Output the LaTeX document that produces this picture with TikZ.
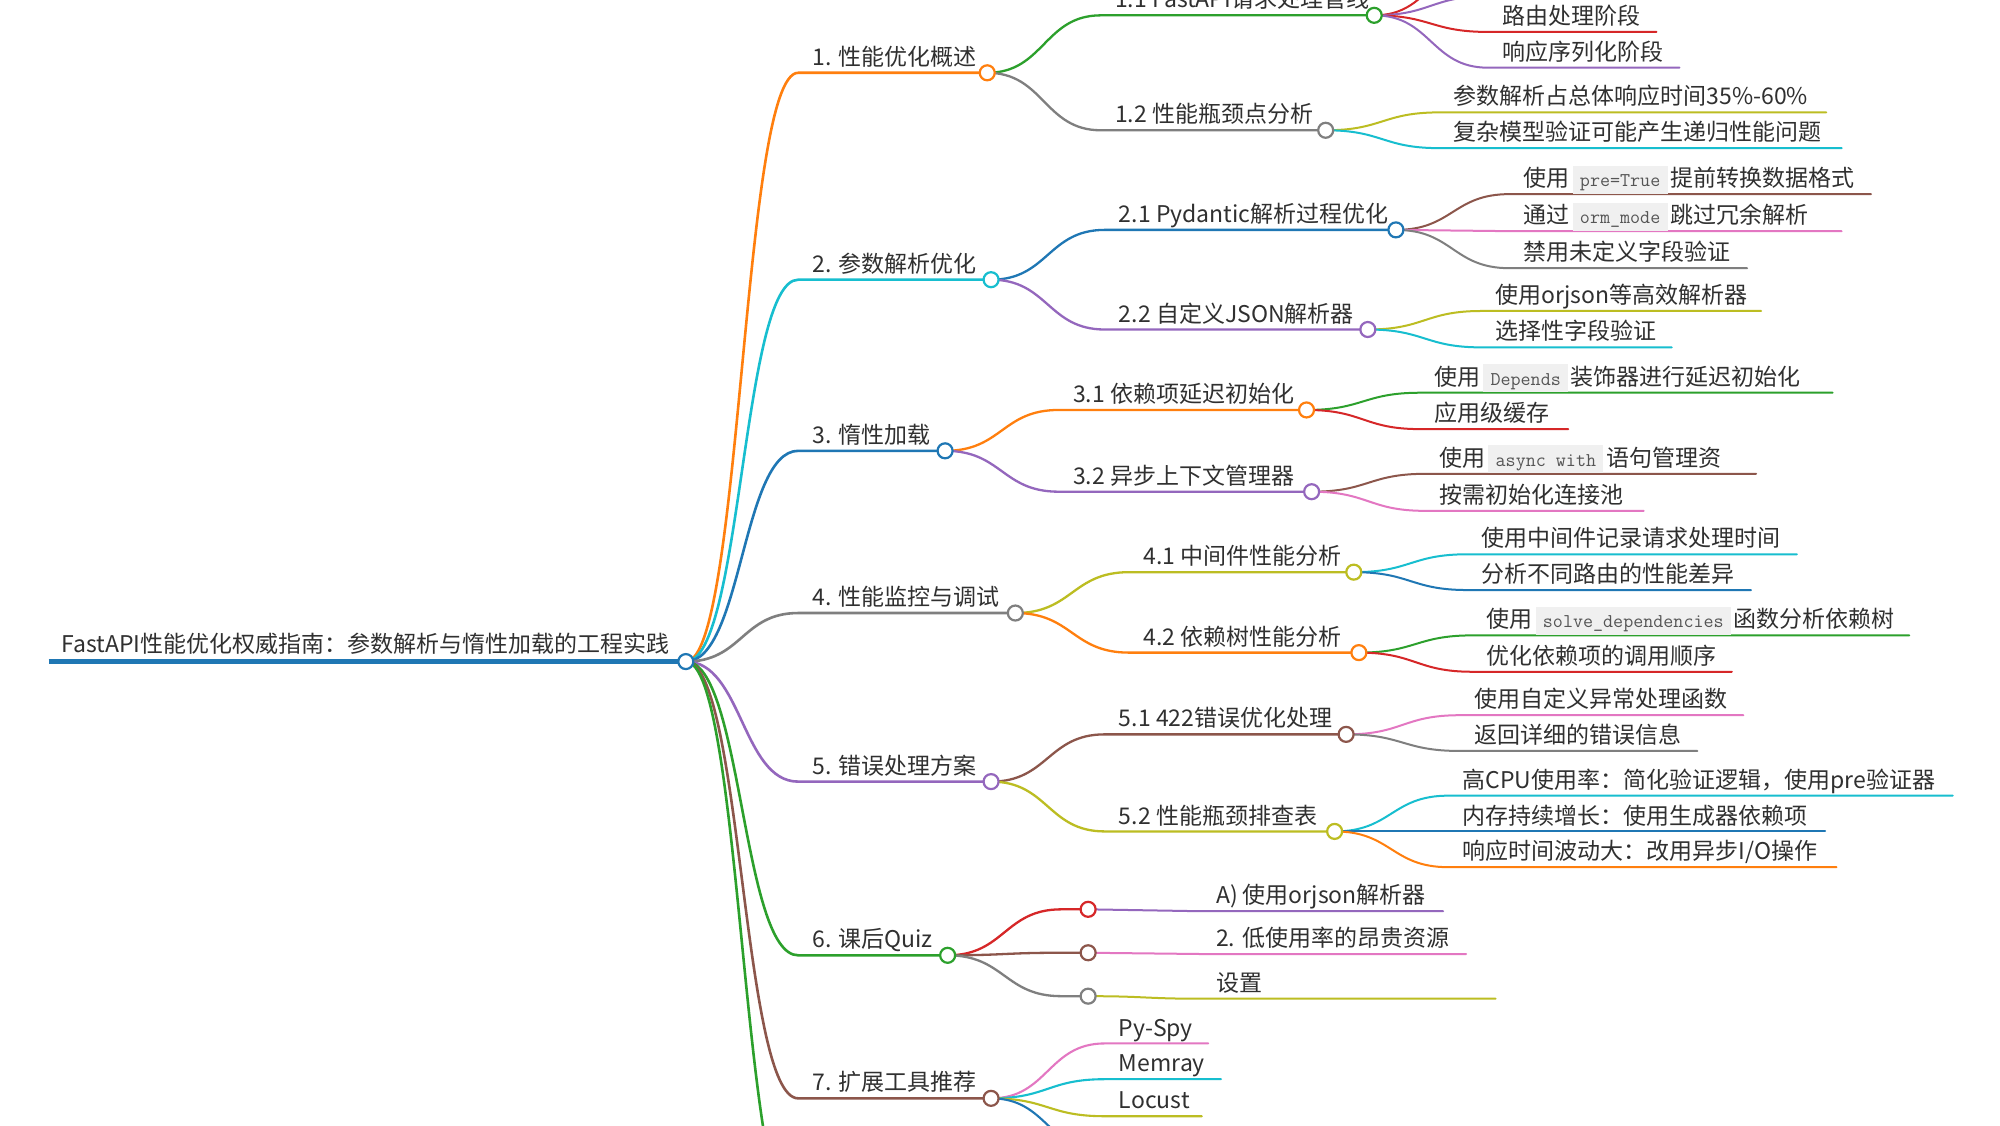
\documentclass[tikz,border=0pt]{standalone}
\usepackage{fontspec}
\setmainfont{Noto Sans CJK SC}
\usetikzlibrary{calc}
\definecolor{cblue}{HTML}{1F77B4}
\definecolor{corange}{HTML}{FF7F0E}
\definecolor{cgreen}{HTML}{2CA02C}
\definecolor{cred}{HTML}{D62728}
\definecolor{cpurple}{HTML}{9467BD}
\definecolor{cbrown}{HTML}{8C564B}
\definecolor{cpink}{HTML}{E377C2}
\definecolor{cgray}{HTML}{7F7F7F}
\definecolor{colive}{HTML}{BCBD22}
\definecolor{ccyan}{HTML}{17BECF}
\definecolor{codebg}{HTML}{F0F0F0}
\definecolor{codefg}{HTML}{555555}
\definecolor{txt}{HTML}{303030}
\newcommand\cod[1]{\hspace{0.12em}{\setlength{\fboxsep}{0pt}\colorbox{codebg}{\rule[-0.3em]{0pt}{1.22em}\hspace{0.32em}{\fontsize{19.5pt}{19.5pt}\ttfamily\color{codefg}#1}\hspace{0.32em}}}\hspace{0.12em}}
\tikzset{
  mmtext/.style={inner sep=0pt, anchor=base west, text=txt, font=\fontsize{23pt}{28pt}\selectfont},
  mmdot/.style={circle, fill=white, line width=2.2pt, minimum size=15pt, inner sep=0pt},
}
% name, parent, colour, width, x start, y, x end/circle, text
\newcommand\mmnode[8]{%
  \coordinate (#1s) at (#5,#6);
  \coordinate (#1c) at (#7,#6);
  \draw[#3, line width=#4, line cap=round] let \p1=(#2c), \p2=(#1s) in (\p1) .. controls ({0.5*\x1+0.5*\x2},\y1) and ({0.5*\x1+0.5*\x2},\y2) .. (\p2) -- (#1c);
  \node[mmtext] (#1t) at ([xshift=14.05pt, yshift=7.4pt]#1s) {#8};
}
\newcommand\mmhidden[7]{%
  \coordinate (#1s) at (#5,#6);
  \coordinate (#1c) at (#7,#6);
  \draw[#3, line width=#4, line cap=round] let \p1=(#2c), \p2=(#1s) in (\p1) .. controls ({0.5*\x1+0.5*\x2},\y1) and ({0.5*\x1+0.5*\x2},\y2) .. (\p2) -- (#1c);
}
\begin{document}
\begin{tikzpicture}[x=1.2771pt, y=-1.2771pt]
\useasboundingbox (0,0) rectangle (1566,881);
\fill[white] (0,0) rectangle (1566,881);
% root
\coordinate (roots) at (38,518);
\coordinate (rootc) at (537,518);
\draw[cblue, line width=5pt] (roots) -- (rootc);
\node[mmtext] (roott) at (48,511) {FastAPI性能优化权威指南：参数解析与惰性加载的工程实践};
% level 1
\mmnode{a}{root}{corange}{2.6pt}{625}{57}{773}{1. 性能优化概述}
\mmnode{b}{root}{ccyan}{2.6pt}{625}{219}{776}{2. 参数解析优化}
\mmnode{c}{root}{cblue}{2.6pt}{625}{353}{740}{3. 惰性加载}
\mmnode{d}{root}{cgray}{2.6pt}{625}{480}{795}{4. 性能监控与调试}
\mmnode{e}{root}{cpurple}{2.6pt}{625}{612}{776}{5. 错误处理方案}
\mmnode{f}{root}{cgreen}{2.6pt}{625}{748}{742}{6. 课后Quiz}
\mmnode{g}{root}{cbrown}{2.6pt}{625}{860}{776}{7. 扩展工具推荐}
\mmhidden{h}{root}{cgreen}{2.6pt}{625}{960}{760}
% level 2
\mmnode{aa}{a}{cgreen}{2.3pt}{862}{12}{1076}{1.1 FastAPI请求处理管线}
\mmnode{ab}{a}{cgray}{2.3pt}{862}{102}{1038}{1.2 性能瓶颈点分析}
\mmnode{ba}{b}{cblue}{2.3pt}{865}{180}{1093}{2.1 Pydantic解析过程优化}
\mmnode{bb}{b}{cpurple}{2.3pt}{865}{258}{1071}{2.2 自定义JSON解析器}
\mmnode{ca}{c}{corange}{2.3pt}{829}{321}{1023}{3.1 依赖项延迟初始化}
\mmnode{cb}{c}{cpurple}{2.3pt}{829}{385}{1027}{3.2 异步上下文管理器}
\mmnode{da}{d}{colive}{2.3pt}{884}{448}{1060}{4.1 中间件性能分析}
\mmnode{db}{d}{corange}{2.3pt}{884}{511}{1064}{4.2 依赖树性能分析}
\mmnode{ea}{e}{cbrown}{2.3pt}{865}{575}{1054}{5.1 422错误优化处理}
\mmnode{eb}{e}{colive}{2.3pt}{865}{651}{1045}{5.2 性能瓶颈排查表}
\mmhidden{fa}{f}{cred}{2.3pt}{831}{712}{852}
\mmhidden{fb}{f}{cbrown}{2.3pt}{831}{746}{852}
\mmhidden{fc}{f}{cgray}{2.3pt}{831}{780}{852}
\mmnode{ga}{g}{cpink}{2.1pt}{865}{817}{946}{Py-Spy}
\mmnode{gb}{g}{ccyan}{2.1pt}{865}{845}{956}{Memray}
\mmnode{gc}{g}{colive}{2.1pt}{865}{874}{941}{Locust}
\mmhidden{gd}{g}{cblue}{2.1pt}{865}{902}{950}
% level 3
\mmhidden{aaa}{aa}{cred}{2pt}{1165}{-31}{1300}
\mmhidden{aab}{aa}{cpurple}{2pt}{1165}{-3}{1300}
\mmnode{aac}{aa}{cred}{2pt}{1165}{25}{1297}{路由处理阶段}
\mmnode{aad}{aa}{cpurple}{2pt}{1165}{53}{1315}{响应序列化阶段}
\mmnode{aba}{ab}{colive}{2pt}{1127}{88}{1430}{参数解析占总体响应时间35\%-60\%}
\mmnode{abb}{ab}{ccyan}{2pt}{1127}{116}{1442}{复杂模型验证可能产生递归性能问题}
\mmnode{baa}{ba}{cbrown}{2pt}{1182}{152}{1465}{使用\cod{pre=True}提前转换数据格式}
\mmnode{bab}{ba}{cpink}{2pt}{1182}{181}{1442}{通过\cod{orm\_mode}跳过冗余解析}
\mmnode{bac}{ba}{cgray}{2pt}{1182}{210}{1368}{禁用未定义字段验证}
\mmnode{bba}{bb}{colive}{2pt}{1160}{243.5}{1379}{使用orjson等高效解析器}
\mmnode{bbb}{bb}{ccyan}{2pt}{1160}{272}{1309}{选择性字段验证}
\mmnode{caa}{ca}{cgreen}{2pt}{1112}{307.5}{1435}{使用\cod{Depends}装饰器进行延迟初始化}
\mmnode{cab}{ca}{cred}{2pt}{1112}{336}{1228}{应用级缓存}
\mmnode{cba}{cb}{cbrown}{2pt}{1116}{371}{1375}{使用\cod{async with}语句管理资}
\mmnode{cbb}{cb}{cpink}{2pt}{1116}{400}{1287}{按需初始化连接池}
\mmnode{daa}{da}{ccyan}{2pt}{1149}{434}{1407}{使用中间件记录请求处理时间}
\mmnode{dab}{da}{cblue}{2pt}{1149}{462}{1371}{分析不同路由的性能差异}
\mmnode{dba}{db}{cgreen}{2pt}{1153}{497.5}{1495}{使用\cod{solve\_dependencies}函数分析依赖树}
\mmnode{dbb}{db}{cred}{2pt}{1153}{526}{1356}{优化依赖项的调用顺序}
\mmnode{eaa}{ea}{cpink}{2pt}{1143}{560}{1365}{使用自定义异常处理函数}
\mmnode{eab}{ea}{cgray}{2pt}{1143}{588}{1329}{返回详细的错误信息}
\mmnode{eba}{eb}{ccyan}{2pt}{1134}{623}{1529}{高CPU使用率：简化验证逻辑，使用pre验证器}
\mmnode{ebb}{eb}{cblue}{2pt}{1134}{651}{1429}{内存持续增长：使用生成器依赖项}
\mmnode{ebc}{eb}{corange}{2pt}{1134}{679}{1438}{响应时间波动大：改用异步I/O操作}
\mmnode{faa}{fa}{cpurple}{2pt}{941}{713.5}{1130}{A) 使用orjson解析器}
\mmnode{fba}{fb}{cpink}{2pt}{941}{747}{1148}{2. 低使用率的昂贵资源}
\mmnode{fca}{fc}{colive}{2pt}{941}{782}{1171}{设置}
% circles
\node[mmdot, draw=cblue] (root) at (rootc) {};
\node[mmdot, draw=corange] (a) at (ac) {};
\node[mmdot, draw=ccyan] (b) at (bc) {};
\node[mmdot, draw=cblue] (c) at (cc) {};
\node[mmdot, draw=cgray] (d) at (dc) {};
\node[mmdot, draw=cpurple] (e) at (ec) {};
\node[mmdot, draw=cgreen] (f) at (fc) {};
\node[mmdot, draw=cbrown] (g) at (gc) {};
\node[mmdot, draw=cgreen] (aa) at (aac) {};
\node[mmdot, draw=cgray] (ab) at (abc) {};
\node[mmdot, draw=cblue] (ba) at (bac) {};
\node[mmdot, draw=cpurple] (bb) at (bbc) {};
\node[mmdot, draw=corange] (ca) at (cac) {};
\node[mmdot, draw=cpurple] (cb) at (cbc) {};
\node[mmdot, draw=colive] (da) at (dac) {};
\node[mmdot, draw=corange] (db) at (dbc) {};
\node[mmdot, draw=cbrown] (ea) at (eac) {};
\node[mmdot, draw=colive] (eb) at (ebc) {};
\node[mmdot, draw=cred] (fa) at (fac) {};
\node[mmdot, draw=cbrown] (fb) at (fbc) {};
\node[mmdot, draw=cgray] (fc) at (fcc) {};
\end{tikzpicture}
\end{document}
